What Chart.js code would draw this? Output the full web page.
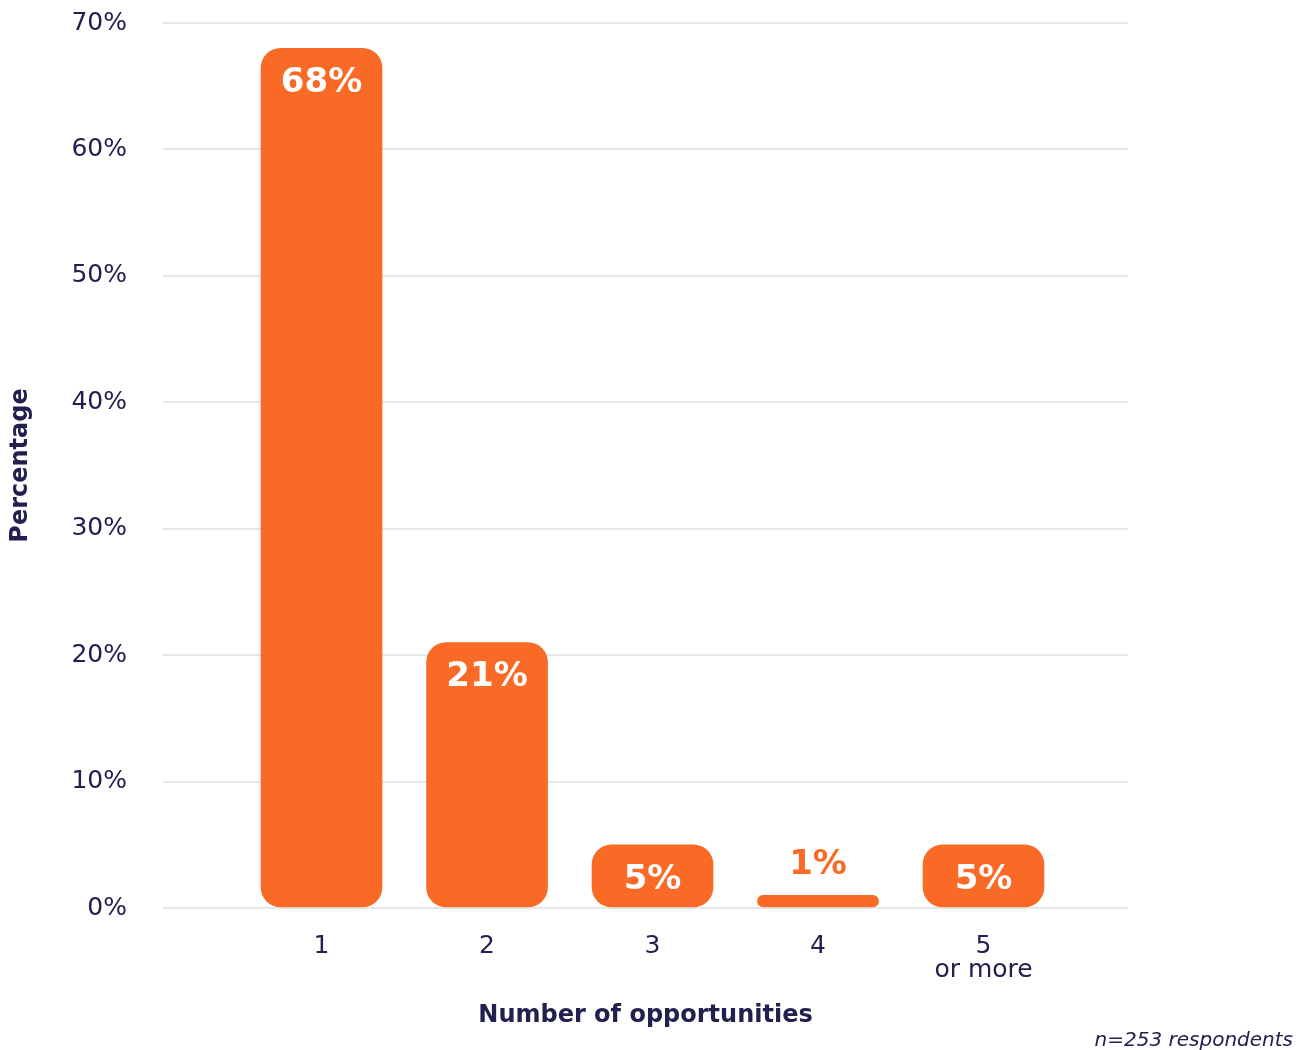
<!DOCTYPE html>
<html>
<head>
<meta charset="utf-8">
<script src="https://cdn.jsdelivr.net/npm/chart.js@4.4.1/dist/chart.umd.min.js"></script>
<style>
    html, body { margin: 0; padding: 0; background: #ffffff; }
    #wrap { position: relative; width: 1308px; height: 1050px; }
</style>
</head>
<body>
<div id="wrap"><canvas id="opportunities"></canvas></div>
<script>
// Chart data
const categories = ['1', '2', '3', '4', ['5', 'or more']];
const positions = [1, 2, 3, 4, 5];
const percentages = [68, 21, 5, 1, 5];
const yTicks = [0, 10, 20, 30, 40, 50, 60, 70];

const ORANGE = '#f86a25';
const NAVY = '#22204f';
const FONT = '"DejaVu Sans", sans-serif';

// Value labels: white inside the bar, orange above when the bar is too short
const valueLabels = {
    id: 'valueLabels',
    afterDatasetsDraw(chart) {
        const ctx = chart.ctx;
        const meta = chart.getDatasetMeta(0);
        ctx.save();
        ctx.font = 'bold 34px ' + FONT;
        ctx.textAlign = 'center';
        ctx.textBaseline = 'middle';
        meta.data.forEach((bar, i) => {
            const value = percentages[i];
            const text = value + '%';
            if (value >= 3) {
                ctx.fillStyle = '#ffffff';
                ctx.fillText(text, bar.x, bar.y + 35);
            } else {
                ctx.fillStyle = ORANGE;
                ctx.fillText(text, bar.x, bar.y - 30);
            }
        });
        ctx.restore();
    }
};

// Sample size note at the bottom right
const footnote = {
    id: 'footnote',
    afterDraw(chart) {
        const ctx = chart.ctx;
        ctx.save();
        ctx.font = 'italic 20px ' + FONT;
        ctx.fillStyle = NAVY;
        ctx.textAlign = 'right';
        ctx.textBaseline = 'middle';
        ctx.fillText('n=253 respondents', chart.width - 15, chart.height - 9);
        ctx.restore();
    }
};

function initChart() {
    const ctx = document.getElementById('opportunities').getContext('2d');
    new Chart(ctx, {
        type: 'bar',
        data: {
            datasets: [{
                data: positions.map((x, i) => ({ x: x, y: percentages[i] })),
                backgroundColor: ORANGE,
                borderRadius: 20,
                borderSkipped: false,
                barThickness: 121
            }]
        },
        plugins: [valueLabels, footnote],
        options: {
            responsive: true,
            maintainAspectRatio: false,
            animation: false,
            layout: {
                padding: { top: 23, right: 180, bottom: 0, left: 0 }
            },
            plugins: {
                legend: { display: false },
                tooltip: { enabled: false }
            },
            scales: {
                x: {
                    type: 'linear',
                    offset: false,
                    min: 0.042,
                    max: 5.873,
                    afterBuildTicks: (scale) => {
                        scale.ticks = positions.map(v => ({ value: v }));
                    },
                    afterFit: (scale) => { scale.height = 142; },
                    grid: { display: false, drawTicks: false },
                    border: { display: false },
                    ticks: {
                        autoSkip: false,
                        maxRotation: 0,
                        padding: 26,
                        color: NAVY,
                        font: { family: FONT, size: 25, lineHeight: 0.96 },
                        callback: (value, index) => categories[index]
                    },
                    title: {
                        display: true,
                        text: 'Number of opportunities',
                        color: NAVY,
                        font: { family: FONT, size: 24, weight: 'bold' },
                        padding: { top: 0, bottom: 20 }
                    }
                },
                y: {
                    min: 0,
                    max: 70,
                    afterBuildTicks: (scale) => {
                        scale.ticks = yTicks.map(v => ({ value: v }));
                    },
                    afterFit: (scale) => {
                        scale.width = 163;
                        scale.paddingTop = 0;
                        scale.paddingBottom = 0;
                    },
                    grid: { color: '#e6e7e9', lineWidth: 2, drawTicks: false },
                    border: { display: false },
                    ticks: {
                        padding: 36,
                        color: NAVY,
                        font: { family: FONT, size: 25 },
                        callback: (value) => value + '%'
                    },
                    title: {
                        display: true,
                        text: 'Percentage',
                        color: NAVY,
                        font: { family: FONT, size: 24, weight: 'bold' },
                        padding: { top: 6, bottom: 0 }
                    }
                }
            }
        }
    });
}

document.addEventListener('DOMContentLoaded', initChart);
</script>
</body>
</html>
